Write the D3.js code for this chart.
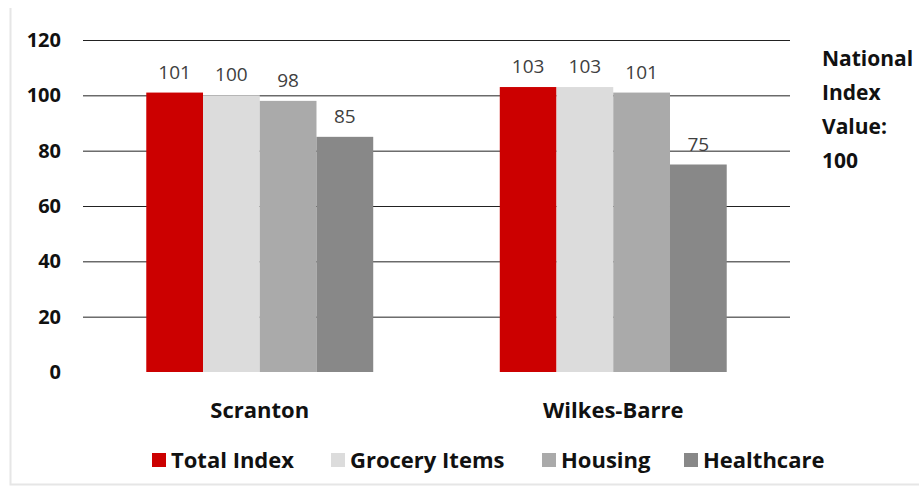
<!DOCTYPE html>
<html>
<head>
<meta charset="utf-8">
<script src="https://cdn.jsdelivr.net/npm/d3@7"></script>
<style>
  body { margin: 0; background: #fff; }
  text { font-family: "Open Sans", sans-serif; }
</style>
</head>
<body>
<div id="chart"></div>
<script>
// data
var cities = ["Scranton", "Wilkes-Barre"];
var series = ["Total Index", "Grocery Items", "Housing", "Healthcare"];
var totalIndex = [101, 103];
var grocery = [100, 103];
var housing = [98, 101];
var healthcare = [85, 75];
var yTicks = [0, 20, 40, 60, 80, 100, 120];
var colors = ["#cc0000", "#dcdcdc", "#aaaaaa", "#888888"];
var noteLines = ["National", "Index", "Value:", "100"];

var values = [totalIndex, grocery, housing, healthcare];

var W = 919, H = 487;
var margin = {top: 40, right: 129, bottom: 115, left: 83},
    width = W - margin.left - margin.right,
    height = H - margin.top - margin.bottom;

var svg = d3.select("#chart").append("svg")
    .attr("width", W)
    .attr("height", H);

// faint frame
svg.append("path")
    .attr("d", "M10.5,8 V484.5 H919")
    .style("fill", "none")
    .style("stroke", "#e6e6e6")
    .style("stroke-width", "2px");

var g = svg.append("g")
    .attr("transform", "translate(" + margin.left + "," + margin.top + ")");

var x0 = d3.scaleBand()
    .domain(cities)
    .range([0, width])
    .paddingInner(0.358)
    .paddingOuter(0.179);

var x1 = d3.scaleBand()
    .domain(series)
    .range([0, x0.bandwidth()]);

var y = d3.scaleLinear()
    .domain([0, 120])
    .range([height, 0]);

// gridlines
g.selectAll(".grid")
    .data(yTicks.filter(d => d > 0))
    .enter().append("line")
    .attr("x1", 0)
    .attr("x2", width)
    .attr("y1", d => y(d) + 0.5)
    .attr("y2", d => y(d) + 0.5)
    .style("stroke", "#222")
    .style("stroke-width", "1px");

// y axis labels
var yAxis = g.append("g")
    .call(d3.axisLeft(y).tickValues(yTicks).tickSize(0).tickPadding(22));
yAxis.select(".domain").remove();
yAxis.selectAll("text")
    .style("font-family", "'Open Sans', sans-serif")
    .style("font-size", "20px")
    .style("font-weight", "bold")
    .style("fill", "#111");

// bars
var groups = g.selectAll(".city")
    .data(cities)
    .enter().append("g")
    .attr("transform", d => "translate(" + x0(d) + ",0)");

groups.selectAll("rect")
    .data((c, ci) => series.map((s, si) => ({s: s, v: values[si][ci], i: si})))
    .enter().append("rect")
    .attr("x", d => x1(d.s))
    .attr("y", d => y(d.v))
    .attr("width", x1.bandwidth())
    .attr("height", d => height - y(d.v))
    .style("fill", d => colors[d.i]);

groups.selectAll(".lbl")
    .data((c, ci) => series.map((s, si) => ({s: s, v: values[si][ci]})))
    .enter().append("text")
    .attr("x", d => x1(d.s) + x1.bandwidth() / 2)
    .attr("y", d => y(d.v) - 14)
    .attr("text-anchor", "middle")
    .style("font-size", "19px")
    .style("fill", "#404040")
    .text(d => d.v);

// category labels
g.selectAll(".cat")
    .data(cities)
    .enter().append("text")
    .attr("x", d => x0(d) + x0.bandwidth() / 2)
    .attr("y", height + 46)
    .attr("text-anchor", "middle")
    .style("font-size", "22px")
    .style("font-weight", "bold")
    .style("fill", "#111")
    .text(d => d);

// legend
var legendX = [152, 331, 542, 684];
var legend = svg.selectAll(".leg")
    .data(series)
    .enter().append("g")
    .attr("transform", (d, i) => "translate(" + legendX[i] + ",460)");

legend.append("rect")
    .attr("x", 0)
    .attr("y", -7)
    .attr("width", 14)
    .attr("height", 14)
    .style("fill", (d, i) => colors[i]);

legend.append("text")
    .attr("x", 19)
    .attr("y", 8)
    .style("font-size", "22px")
    .style("font-weight", "bold")
    .style("fill", "#111")
    .text(d => d);

// note on the right
svg.append("g").selectAll("text")
    .data(noteLines)
    .enter().append("text")
    .attr("x", 822)
    .attr("y", (d, i) => 66 + i * 34)
    .style("font-size", "21px")
    .style("font-weight", "bold")
    .style("fill", "#111")
    .text(d => d);
</script>
</body>
</html>
